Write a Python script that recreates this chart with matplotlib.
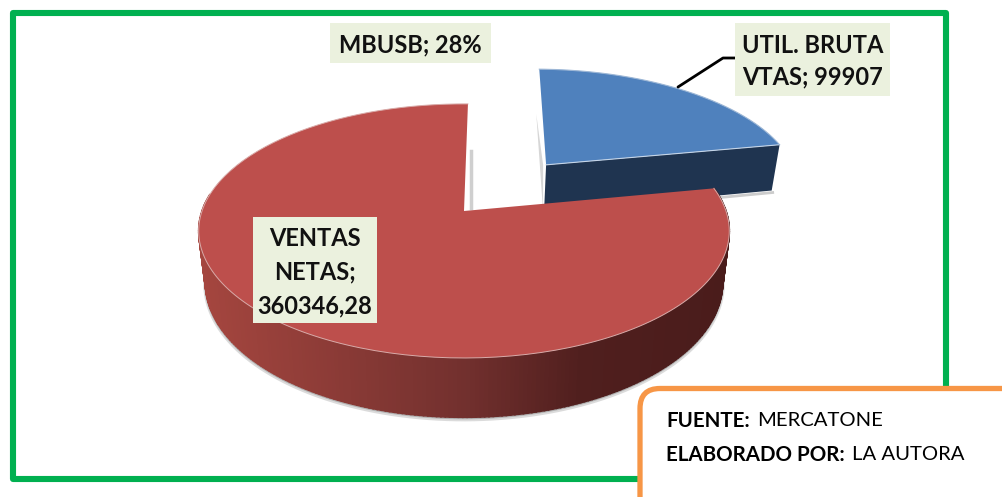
import numpy as np
import matplotlib
matplotlib.use('Agg')
import matplotlib.pyplot as plt
from matplotlib.colors import LinearSegmentedColormap
from matplotlib.patches import FancyBboxPatch, Rectangle

plt.rcParams['font.family'] = ['Lato', 'DejaVu Sans']

# Data
slice_names = ['UTIL. BRUTA VTAS', 'VENTAS NETAS']
slice_values = [99907, 360346.28]
mbusb_name = 'MBUSB'
mbusb_pct = 28

top_colors = ['#4F81BD', '#BD4F4C']
blue_wall = '#1F3450'
red_wall = LinearSegmentedColormap.from_list('wall', [(0, '#A5463F'), (0.5, '#72302E'), (0.72, '#501F1E'), (1, '#4A1C1B')])
label_bg = '#EBF1DE'

# Camera for the tilted pie
XC, YC = 464, 211
R, A, C = 262, 123.9, 0.157
DEPTH = 50
START = 89
EXPLODE = 0.517


def project(u, v, low=False):
    w = 1 + C * v
    x = R * u / w
    y = A * v / w
    if low:
        return XC + x * 0.975, YC - y + DEPTH / w
    return XC + x, YC - y


def rim(a0, a1, ox=0, oy=0, low=False, n=200):
    t = np.radians(np.linspace(a0, a1, n))
    return project(ox + np.cos(t), oy + np.sin(t), low)


fig = plt.figure(figsize=(10.03, 4.97), dpi=100)
ax = fig.add_axes([0, 0, 1, 1])
ax.set_xlim(0, 1003)
ax.set_ylim(497, 0)
ax.axis('off')

frac = np.array(slice_values) / sum(slice_values) * 360
blue_a0, blue_a1 = START - frac[0], START
red_a0, red_a1 = START, START + frac[1]

# Blue slice, pulled out along its bisector
mid = np.radians((blue_a0 + blue_a1) / 2)
ox, oy = EXPLODE * np.cos(mid), EXPLODE * np.sin(mid)
ax_, ay_ = project(ox, oy)
bx_, by_ = project(ox, oy, low=True)
rx, ry = rim(blue_a0, blue_a1, ox, oy)
lx0, ly0 = project(ox + np.cos(np.radians(blue_a0)), oy + np.sin(np.radians(blue_a0)))
lx1, ly1 = project(ox + np.cos(np.radians(blue_a0)), oy + np.sin(np.radians(blue_a0)), low=True)

# soft shadows beside the slices
ax.fill([rx[-1] - 3, ax_ - 3, ax_ - 3, rx[-1] - 3], [ry[-1] + 45, ay_, by_, ry[-1] + 45],
        color='#bbbbbb', alpha=0.6, lw=0, zorder=1)
ax.plot([lx1 + 1, bx_ + 2], [ly1 + 2, by_ + 2], color='#cccccc', lw=2, zorder=1)
ax.fill([ax_, lx0, lx1, bx_], [ay_, ly0, ly1, by_], color=blue_wall, lw=0, zorder=2)
ax.fill([ax_, *rx], [ay_, *ry], color=top_colors[0], lw=0, zorder=2)
ax.plot([ax_, lx0], [ay_, ly0], color='#C5D5E8', lw=0.8, zorder=2)
ax.plot(rx, ry, color='#9DB7D6', lw=0.8, zorder=2)

# Red slice
tx, ty = rim(red_a0, red_a1)
wall_a = np.linspace(172, red_a1, 241)
sx, sy = rim(185, 358, low=True)
ax.plot(sx, sy + 2, color='#999999', lw=3, alpha=0.35, zorder=3)
ax.plot(sx, sy + 1, color='#888888', lw=1.5, alpha=0.5, zorder=3)
lo = project(np.cos(np.radians(wall_a)), np.sin(np.radians(wall_a)), low=True)
hi = project(np.cos(np.radians(wall_a)), np.sin(np.radians(wall_a)))
span = hi[0].max() - hi[0].min()
for i in range(len(wall_a) - 1):
    pos = np.clip((hi[0][i] - hi[0].min()) / span, 0, 1)
    ax.fill([hi[0][i], hi[0][i + 1], lo[0][i + 1], lo[0][i]],
            [hi[1][i], hi[1][i + 1], lo[1][i + 1], lo[1][i]],
            fc=red_wall(pos), ec=red_wall(pos), lw=1.2, zorder=3)

ax.plot([XC + 7, XC + 7], [YC - 60, YC - 3], color='#bbbbbb', lw=2.5, alpha=0.7, zorder=3)
ax.fill([XC, *tx], [YC, *ty], color=top_colors[1], lw=0, zorder=4)
ax.plot(tx, ty, color='#D9ABA9', lw=0.7, zorder=4)

# Labels
ax.plot([678, 723, 735], [87, 58, 58], color='black', lw=2, solid_capstyle='round', zorder=2)
label_boxes = [(330, 23, 161, 40), (735, 23, 155, 73), (253, 217, 124, 106)]
label_texts = [
    f'{mbusb_name}; {mbusb_pct}%',
    f'UTIL. BRUTA\nVTAS; {slice_values[0]}',
    'VENTAS\nNETAS;\n' + f'{slice_values[1]:.2f}'.replace('.', ','),
]
label_spacing = [1.2, 1.46, 1.55]
for (x, y, w, h), txt, sp in zip(label_boxes, label_texts, label_spacing):
    ax.add_patch(Rectangle((x, y), w, h, fc=label_bg, ec='none', zorder=5))
    ax.text(x + w / 2, y + h / 2 + 2, txt, ha='center', va='center', fontsize=17,
            fontweight='bold', color='#111111', linespacing=sp, zorder=6)

# Frame and source box
ax.add_patch(Rectangle((13.5, 13), 932.5, 466, fc='none', ec='#00B050', lw=4.4, joinstyle='round', zorder=7))
ax.add_patch(FancyBboxPatch((660, 408.5), 345, 90, boxstyle='round,pad=20,rounding_size=20',
                            fc='white', ec='#F79646', lw=3.8, zorder=8))
ax.text(666, 421, 'FUENTE:', fontsize=14.8, fontweight='bold', va='center', color='black', zorder=9)
ax.text(757, 421, 'MERCATONE', fontsize=14.6, va='center', color='black', zorder=9)
ax.text(666, 455, 'ELABORADO POR:', fontsize=14.8, fontweight='bold', va='center', color='black', zorder=9)
ax.text(852, 455, 'LA AUTORA', fontsize=14.6, va='center', color='black', zorder=9)

fig.savefig('out.png', dpi=100, facecolor='white')
